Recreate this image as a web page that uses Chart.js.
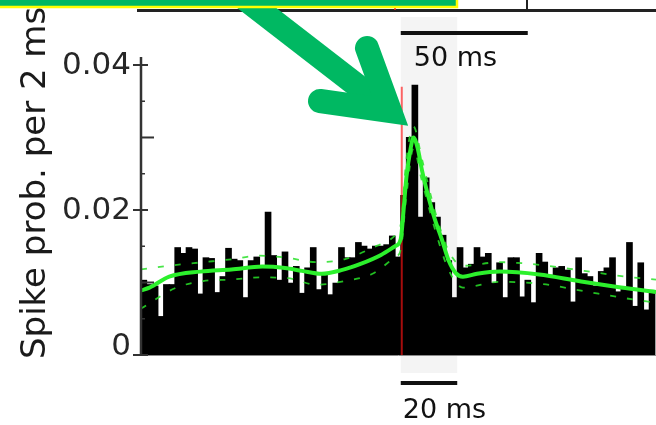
<!DOCTYPE html>
<html>
<head>
<meta charset="utf-8">
<script src="https://cdn.jsdelivr.net/npm/chart.js@4.4.1/dist/chart.umd.min.js"></script>
<style>
  html, body { margin: 0; padding: 0; background: #fff; overflow: hidden; }
</style>
</head>
<body>
<canvas id="psth" width="656" height="425"></canvas>
<script>
// 2 ms bins, centre times in ms relative to the trigger
const binCenters = [
  -91, -89, -87, -85, -83, -81, -79, -77, -75, -73, -71, -69, -67, -65, -63, -61,
  -59, -57, -55, -53, -51, -49, -47, -45, -43, -41, -39, -37, -35, -33, -31, -29,
  -27, -25, -23, -21, -19, -17, -15, -13, -11, -9, -7, -5, -3, -1,
  1, 3, 5, 7, 9, 11, 13, 15, 17, 19, 21, 23, 25, 27, 29, 31,
  33, 35, 37, 39, 41, 43, 45, 47, 49, 51, 53, 55, 57, 59, 61, 63,
  65, 67, 69, 71, 73, 75, 77, 79, 81, 83, 85, 87, 89
];

// spike probability per bin
const spikeProb = [
  0.0103, 0.0097, 0.0095, 0.0053, 0.0097, 0.0097, 0.0148, 0.0140, 0.0148, 0.0146, 0.0084, 0.0134, 0.0133, 0.0086, 0.0108, 0.0147,
  0.0132, 0.0130, 0.0079, 0.0130, 0.0135, 0.0122, 0.0197, 0.0137, 0.0103, 0.0142, 0.0099, 0.0122, 0.0085, 0.0120, 0.0148, 0.0090,
  0.0113, 0.0083, 0.0099, 0.0148, 0.0134, 0.0134, 0.0155, 0.0150, 0.0146, 0.0150, 0.0150, 0.0152, 0.0164, 0.0135,
  0.0220, 0.0300, 0.0372, 0.0190, 0.0244, 0.0210, 0.0190, 0.0165, 0.0130, 0.0079, 0.0148, 0.0120, 0.0125, 0.0148, 0.0135, 0.0140,
  0.0099, 0.0127, 0.0079, 0.0134, 0.0134, 0.0080, 0.0103, 0.0072, 0.0140, 0.0128, 0.0110, 0.0120, 0.0122, 0.0117, 0.0073, 0.0134,
  0.0112, 0.0108, 0.0095, 0.0115, 0.0120, 0.0134, 0.0087, 0.0094, 0.0155, 0.0067, 0.0127, 0.0062, 0.0087
];

// smoothed rate
const fitTimes = [-92, -89, -82, -71, -60, -49, -41, -35, -28, -21, -14, -7, -2, 0, 1, 2, 3.5, 4.5, 6, 7.5, 10, 12, 14.5, 17, 19.5, 22, 27, 35, 49, 63, 78, 90.4];
const fitValues = [0.0089, 0.0093, 0.0108, 0.0115, 0.0118, 0.0122, 0.0120, 0.0116, 0.0112, 0.0117, 0.0126, 0.0138, 0.0150, 0.0160, 0.0200, 0.0245, 0.0285, 0.0300, 0.0285, 0.0255, 0.0215, 0.0188, 0.0160, 0.0130, 0.0113, 0.0108, 0.0112, 0.0115, 0.0111, 0.0102, 0.0093, 0.0087];

// confidence band around the smoothed rate
const bandTimes = [-92, -80, -70, -60, -50, -40, -30, -20, -10, -2, 0, 2, 4.5, 7.5, 12, 17, 22, 35, 50, 65, 80, 90.4];
const bandUpper = [0.0118, 0.0124, 0.0128, 0.0132, 0.0137, 0.0134, 0.0128, 0.0132, 0.0148, 0.0165, 0.0180, 0.0270, 0.0315, 0.0270, 0.0200, 0.0143, 0.0123, 0.0128, 0.0124, 0.0116, 0.0108, 0.0104];
const bandLower = [0.0064, 0.0092, 0.0102, 0.0104, 0.0107, 0.0106, 0.0097, 0.0102, 0.0112, 0.0135, 0.0145, 0.0220, 0.0285, 0.0240, 0.0175, 0.0117, 0.0093, 0.0101, 0.0098, 0.0088, 0.0078, 0.0072];

const yTicks = [0, 0.02, 0.04];
const yTickLabels = ['0', '0.02', '0.04'];
const yMinorTicks = [0.01, 0.03];
const yTinyTicks = [0.005, 0.015, 0.025, 0.035];

const windowStart = 0;   // shaded response window, ms
const windowEnd = 20;
const redLineTop = 0.037;
const scaleBarMs = 20;
const upperScaleBarMs = 50;
const upperPxPerMs = 2.54; // time scale of the panel above

const font = '"DejaVu Sans", Verdana, sans-serif';
const arrowGreen = '#00b862';
const fitGreen = '#2cf02c';

const overlay = {
  id: 'overlay',
  beforeDatasetsDraw(chart) {
    const { ctx, scales: { x } } = chart;
    const x0 = x.getPixelForValue(windowStart);
    const x1 = x.getPixelForValue(windowEnd);
    ctx.save();
    ctx.fillStyle = '#f4f4f4';
    ctx.fillRect(x0, 17, x1 - x0, 373 - 17);
    ctx.restore();
  },
  afterDatasetDraw(chart, args) {
    if (args.index !== 0) return;
    // trigger marker on top of the histogram
    const { ctx, scales: { x, y } } = chart;
    const px = x.getPixelForValue(0) + 1;
    ctx.save();
    ctx.strokeStyle = 'rgba(255, 20, 20, 0.65)';
    ctx.lineWidth = 2;
    ctx.beginPath();
    ctx.moveTo(px, y.getPixelForValue(redLineTop));
    ctx.lineTo(px, y.getPixelForValue(0));
    ctx.stroke();
    ctx.restore();
  },
  afterDraw(chart) {
    const { ctx, chartArea: area, scales: { x, y } } = chart;
    ctx.save();

    // baseline
    ctx.strokeStyle = '#8a8a8a';
    ctx.lineWidth = 1;
    ctx.beginPath();
    ctx.moveTo(area.left, area.bottom + 0.5);
    ctx.lineTo(area.right, area.bottom + 0.5);
    ctx.stroke();

    // y axis
    ctx.strokeStyle = '#333';
    ctx.lineWidth = 2.5;
    ctx.beginPath();
    ctx.moveTo(area.left, area.top);
    ctx.lineTo(area.left, area.bottom);
    ctx.stroke();

    ctx.lineWidth = 2;
    yTicks.forEach(v => {
      const py = y.getPixelForValue(v);
      ctx.beginPath();
      ctx.moveTo(area.left - 8, py);
      ctx.lineTo(area.left + 7, py);
      ctx.stroke();
    });
    yMinorTicks.forEach(v => {
      const py = y.getPixelForValue(v);
      ctx.beginPath();
      ctx.moveTo(area.left, py);
      ctx.lineTo(area.left + 13, py);
      ctx.stroke();
    });
    ctx.lineWidth = 1.5;
    yTinyTicks.forEach(v => {
      const py = y.getPixelForValue(v);
      ctx.beginPath();
      ctx.moveTo(area.left, py);
      ctx.lineTo(area.left + 4, py);
      ctx.stroke();
    });

    // tick labels
    ctx.fillStyle = '#262626';
    ctx.font = '31px ' + font;
    ctx.textAlign = 'right';
    ctx.textBaseline = 'middle';
    yTicks.forEach((v, i) => {
      const py = Math.min(y.getPixelForValue(v), area.bottom - 9);
      ctx.fillText(yTickLabels[i], area.left - 10, py + 1);
    });

    // axis title
    ctx.save();
    ctx.translate(45, 359);
    ctx.rotate(-Math.PI / 2);
    ctx.fillStyle = '#1a1a1a';
    ctx.font = '34px ' + font;
    ctx.textAlign = 'left';
    ctx.textBaseline = 'alphabetic';
    ctx.fillText('Spike prob. per 2 ms', 0, 0);
    ctx.restore();

    // scale bars
    const sx0 = x.getPixelForValue(0);
    ctx.fillStyle = '#111';
    ctx.fillRect(sx0, 381, x.getPixelForValue(scaleBarMs) - sx0, 4);
    ctx.fillRect(sx0, 31, upperScaleBarMs * upperPxPerMs, 4);
    ctx.font = '27px ' + font;
    ctx.textAlign = 'left';
    ctx.textBaseline = 'alphabetic';
    ctx.fillText('20 ms', sx0 + 2, 418);
    ctx.fillText('50 ms', sx0 + 13, 66);

    // bottom edge of the panel above
    ctx.strokeStyle = '#222';
    ctx.lineWidth = 3;
    ctx.beginPath();
    ctx.moveTo(137, 10.5);
    ctx.lineTo(656, 10.5);
    ctx.stroke();
    ctx.lineWidth = 2;
    ctx.beginPath();
    ctx.moveTo(527, 0);
    ctx.lineTo(527, 10);
    ctx.stroke();
    ctx.strokeStyle = 'rgba(255, 30, 30, 0.8)';
    ctx.beginPath();
    ctx.moveTo(395, 5);
    ctx.lineTo(395, 10);
    ctx.stroke();

    // arrow pointing at the peak
    const vx = 390, vy = 111;
    ctx.strokeStyle = arrowGreen;
    ctx.lineWidth = 24;
    ctx.lineCap = 'butt';
    ctx.beginPath();
    ctx.moveTo(240, -5);
    ctx.lineTo(vx, vy);
    ctx.stroke();
    ctx.lineCap = 'round';
    ctx.lineJoin = 'miter';
    ctx.beginPath();
    ctx.moveTo(367, 48);
    ctx.lineTo(vx, vy);
    ctx.lineTo(320, 101);
    ctx.stroke();

    // label box clipped at the top
    ctx.fillStyle = arrowGreen;
    ctx.fillRect(0, 0, 456, 6);
    ctx.strokeStyle = '#ffff00';
    ctx.lineWidth = 2.5;
    ctx.lineCap = 'butt';
    ctx.beginPath();
    ctx.moveTo(0, 7);
    ctx.lineTo(457, 7);
    ctx.lineTo(457, -2);
    ctx.stroke();

    ctx.restore();
  }
};

const ctx = document.getElementById('psth').getContext('2d');
new Chart(ctx, {
  type: 'bar',
  data: {
    datasets: [
      {
        label: 'Spike probability',
        data: binCenters.map((t, i) => ({ x: t, y: spikeProb[i] })),
        backgroundColor: '#000',
        borderWidth: 0,
        barPercentage: 1,
        categoryPercentage: 1,
        inflateAmount: 0.5,
        order: 3
      },
      {
        type: 'line',
        label: 'Upper bound',
        data: bandTimes.map((t, i) => ({ x: t, y: bandUpper[i] })),
        borderColor: 'rgba(40, 225, 40, 0.85)',
        borderWidth: 1.8,
        borderDash: [6, 11],
        pointRadius: 0,
        cubicInterpolationMode: 'monotone',
        order: 2
      },
      {
        type: 'line',
        label: 'Lower bound',
        data: bandTimes.map((t, i) => ({ x: t, y: bandLower[i] })),
        borderColor: 'rgba(40, 225, 40, 0.85)',
        borderWidth: 1.8,
        borderDash: [6, 11],
        pointRadius: 0,
        cubicInterpolationMode: 'monotone',
        order: 2
      },
      {
        type: 'line',
        label: 'Smoothed',
        data: fitTimes.map((t, i) => ({ x: t, y: fitValues[i] })),
        borderColor: fitGreen,
        borderWidth: 4,
        pointRadius: 0,
        cubicInterpolationMode: 'monotone',
        order: 1
      }
    ]
  },
  options: {
    responsive: false,
    devicePixelRatio: 1,
    animation: false,
    layout: { padding: { left: 141, right: 0, top: 57, bottom: 70 } },
    plugins: { legend: { display: false }, tooltip: { enabled: false } },
    scales: {
      x: { type: 'linear', min: -92, max: 90.4, offset: false, display: false },
      y: { min: 0, max: 0.0411, display: false }
    }
  },
  plugins: [overlay]
});
</script>
</body>
</html>
